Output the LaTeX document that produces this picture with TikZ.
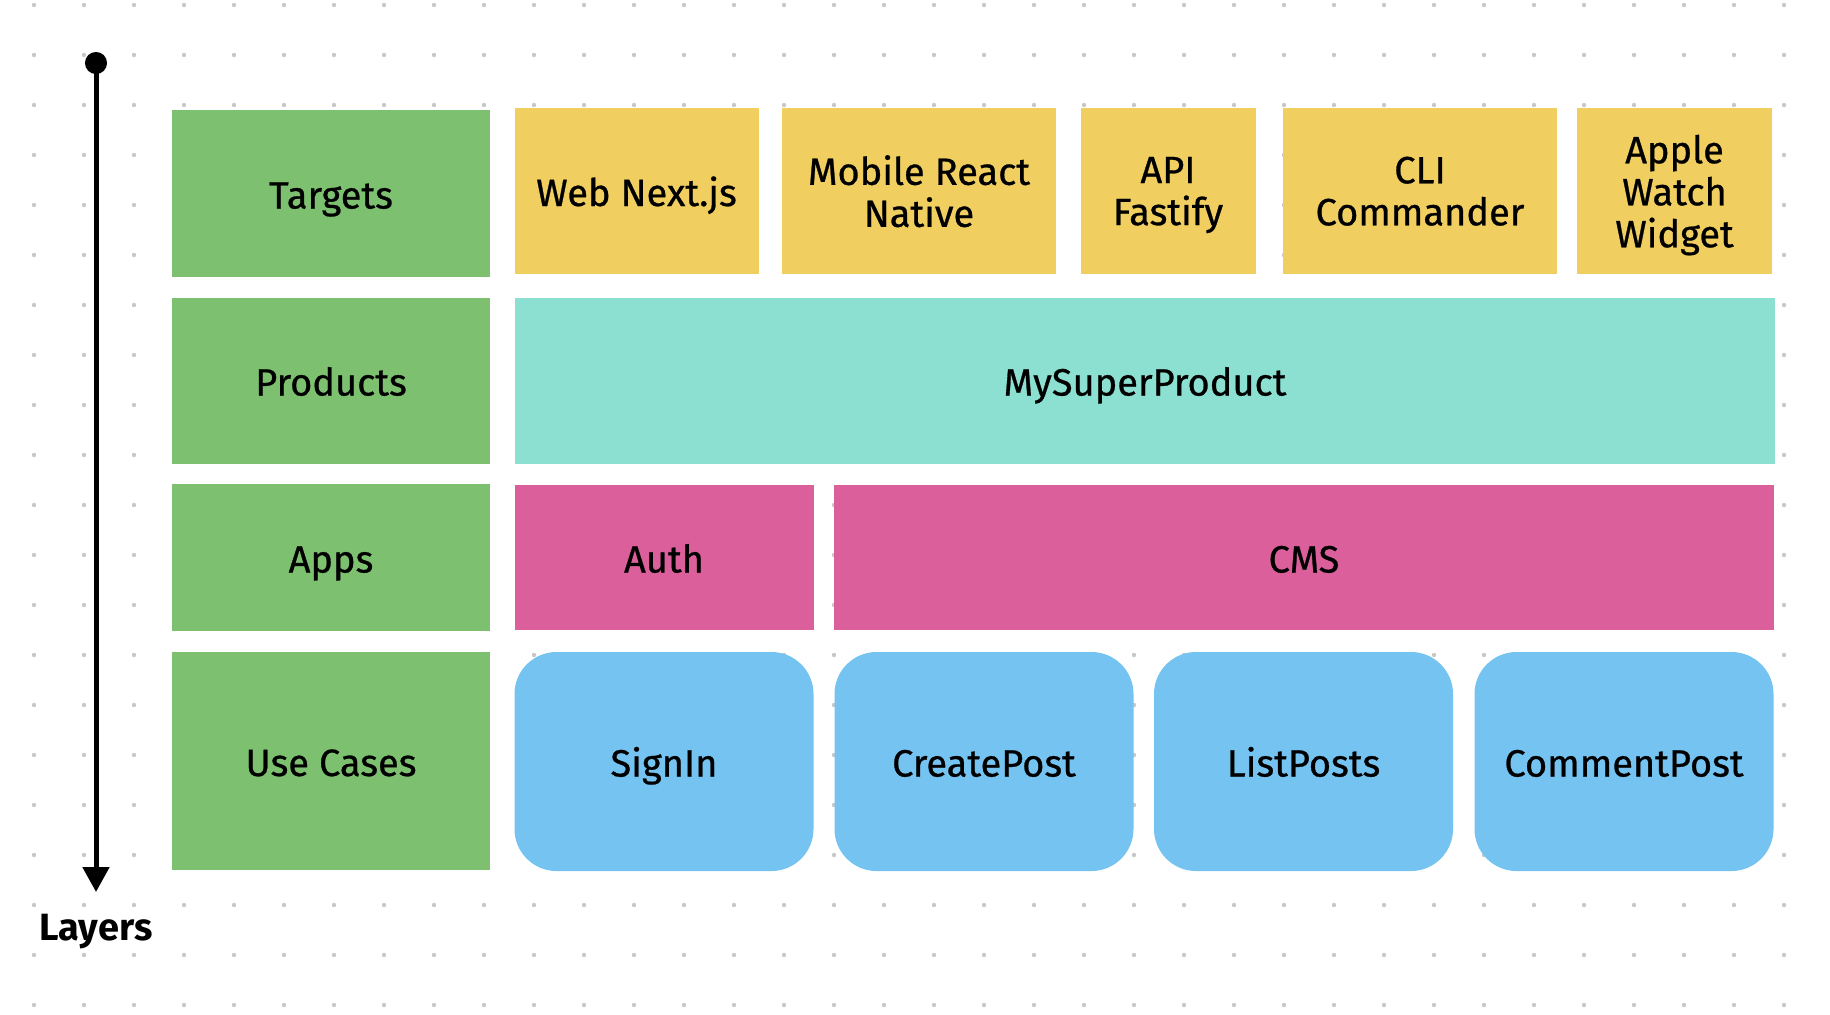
\documentclass[tikz,border=0pt]{standalone}
\usepackage{fontspec}
\setmainfont{Fira Sans}
\newfontfamily\boxfont{Fira Sans}[FakeBold=0.7]
\usepackage{tikz}
\usetikzlibrary{arrows.meta}
\usepackage{xcolor}
\definecolor{LayerGreen}{HTML}{7DC170}
\definecolor{TargetYellow}{HTML}{F0CE5F}
\definecolor{ProductTeal}{HTML}{8BE0D1}
\definecolor{AppPink}{HTML}{DA5F9A}
\definecolor{CaseBlue}{HTML}{75C3F0}
\definecolor{GridGray}{HTML}{C8C8C8}
\tikzset{
    % Node styles - flat fills, no outline
    layerbox/.style={
        rectangle,
        fill=LayerGreen,
        draw=none,
        inner sep=0pt,
        minimum width=159pt,
        text height=15pt,
        text depth=0pt,
        align=center,
        font=\boxfont\fontsize{19}{21}\selectfont
    },
    targetbox/.style={
        rectangle,
        fill=TargetYellow,
        draw=none,
        inner sep=0pt,
        minimum height=83pt,
        text depth=0pt,
        align=center,
        font=\boxfont\fontsize{19}{21}\selectfont
    },
    productbox/.style={
        rectangle,
        fill=ProductTeal,
        draw=none,
        inner sep=0pt,
        minimum height=83pt,
        text height=15pt,
        text depth=0pt,
        align=center,
        font=\boxfont\fontsize{19}{21}\selectfont
    },
    appbox/.style={
        rectangle,
        fill=AppPink,
        draw=none,
        inner sep=0pt,
        minimum height=72.5pt,
        text height=15pt,
        text depth=0pt,
        align=center,
        font=\boxfont\fontsize{19}{21}\selectfont
    },
    casebox/.style={
        rectangle,
        rounded corners=21pt,
        fill=CaseBlue,
        draw=none,
        inner sep=0pt,
        minimum width=149.5pt,
        minimum height=109.5pt,
        text height=15pt,
        text depth=0pt,
        align=center,
        font=\boxfont\fontsize{19}{21}\selectfont
    },
    % Arrow styles
    layerarrow/.style={
        {Circle[length=11pt]}-{Triangle[length=12.5pt,width=13pt]},
        line width=2.5pt,
        black
    }
}

\begin{document}
\begin{tikzpicture}[x=0.5pt, y=-0.5pt]
    \useasboundingbox (0,0) rectangle (1830,1014);
    \fill[white] (0,0) rectangle (1830,1014);

    % Dot grid
    \foreach \gx in {0,...,35} {
        \foreach \gy in {0,...,20} {
            \fill[GridGray] (34+50*\gx, 5+50*\gy) circle (1.1pt);
        }
    }

    % Layer axis
    \coordinate (axistop) at (96,52);
    \coordinate (axisbot) at (96,892);
    \draw[layerarrow] (axistop) -- (axisbot);
    \node[font=\bfseries\fontsize{19}{21}\selectfont, anchor=base] (layers) at (96,940) {Layers};

    % Layer names
    \node[layerbox, minimum height=83.5pt] (targets) at (331,193.5) {Targets};
    \node[layerbox, minimum height=83pt] (products) at (331,380.5) {Products};
    \node[layerbox, minimum height=73.5pt] (apps) at (331,557.5) {Apps};
    \node[layerbox, minimum height=109pt] (usecases) at (331,761) {Use Cases};

    % Targets
    \node[targetbox, minimum width=122pt, text height=15pt] (web) at (636.5,191) {Web Next.js};
    \node[targetbox, minimum width=137pt] (mobile) at (919,191) {Mobile React\\Native};
    \node[targetbox, minimum width=87.5pt] (api) at (1168,191) {API\\Fastify};
    \node[targetbox, minimum width=137pt] (cli) at (1420,191) {CLI\\Commander};
    \node[targetbox, minimum width=97.5pt] (watch) at (1674.5,191) {Apple\\Watch\\Widget};

    % Products
    \node[productbox, minimum width=630pt] (superproduct) at (1145,380.5) {MySuperProduct};

    % Apps
    \node[appbox, minimum width=149.5pt] (auth) at (664,557.5) {Auth};
    \node[appbox, minimum width=470pt] (cms) at (1304,557.5) {CMS};

    % Use cases
    \node[casebox] (signin) at (664,761.5) {SignIn};
    \node[casebox] (createpost) at (984,761.5) {CreatePost};
    \node[casebox] (listposts) at (1303.5,761.5) {ListPosts};
    \node[casebox] (commentpost) at (1624,761.5) {CommentPost};
\end{tikzpicture}
\end{document}
